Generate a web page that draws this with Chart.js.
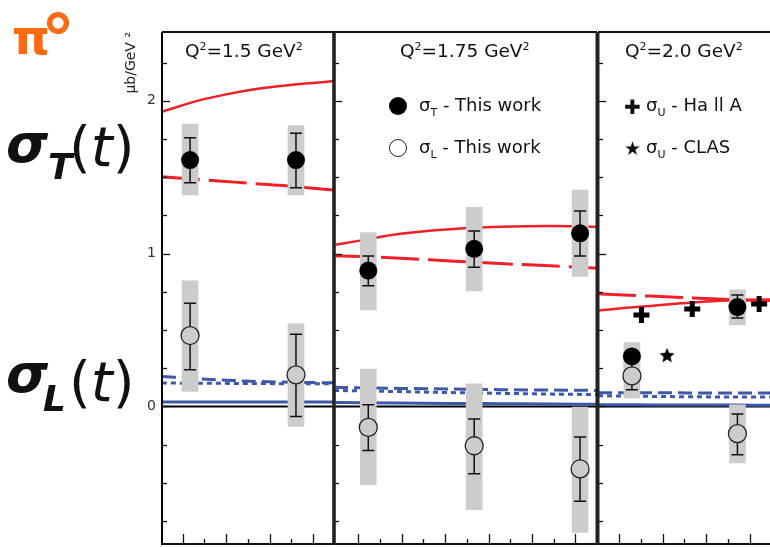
<!DOCTYPE html>
<html>
<head>
<meta charset="utf-8">
<script src="https://cdn.jsdelivr.net/npm/chart.js@4.4.1/dist/chart.umd.min.js"></script>
<style>
  body { margin: 0; background: #fff; width: 770px; height: 547px; overflow: hidden; position: relative; font-family: "DejaVu Sans", sans-serif; }
  canvas { position: absolute; top: 0; }
  .txt { position: absolute; white-space: nowrap; color: #111; line-height: 1; }
  .dot { position: absolute; width: 18px; height: 18px; border-radius: 50%; box-sizing: border-box; }
  sup, sub { font-size: 11px; }
</style>
</head>
<body>
<canvas id="p1" width="336" height="547" style="left:0"></canvas>
<canvas id="p2" width="270" height="547" style="left:330px"></canvas>
<canvas id="p3" width="176" height="547" style="left:594px"></canvas>

<!-- side labels -->
<div class="txt" style="left:12px;top:9px;color:#ff6a10;font:bold 48px 'DejaVu Sans'">π</div>
<div class="txt" style="left:41px;top:0px;color:#ff6a10;font:bold 68px 'DejaVu Sans'">°</div>

<div class="txt" style="left:6px;top:112px;font:bold italic 54px 'DejaVu Sans'">σ</div>
<div class="txt" style="left:48px;top:146px;font:bold italic 36px 'DejaVu Sans'">T</div>
<div class="txt" style="left:69px;top:114px;font:56px 'DejaVu Sans'">(<i>t</i>)</div>

<div class="txt" style="left:6px;top:342px;font:bold italic 54px 'DejaVu Sans'">σ</div>
<div class="txt" style="left:43px;top:378px;font:bold italic 36px 'DejaVu Sans'">L</div>
<div class="txt" style="left:69px;top:349px;font:56px 'DejaVu Sans'">(<i>t</i>)</div>

<!-- panel titles -->
<div class="txt" style="left:185px;top:40px;font:18.5px 'DejaVu Sans'">Q<sup>2</sup>=1.5 GeV<sup>2</sup></div>
<div class="txt" style="left:400px;top:40px;font:18.5px 'DejaVu Sans'">Q<sup>2</sup>=1.75 GeV<sup>2</sup></div>
<div class="txt" style="left:625px;top:40px;font:18.5px 'DejaVu Sans'">Q<sup>2</sup>=2.0 GeV<sup>2</sup></div>

<!-- legends -->
<div class="dot" style="left:389px;top:97px;background:#000"></div>
<div class="txt" style="left:419px;top:94px;font:18px 'DejaVu Sans'">σ<sub>T</sub> - This work</div>
<div class="dot" style="left:389px;top:139px;background:#fff;border:1.3px solid #222"></div>
<div class="txt" style="left:419px;top:136px;font:18px 'DejaVu Sans'">σ<sub>L</sub> - This work</div>
<div class="txt" style="left:624px;top:95px;font:bold 20px 'DejaVu Sans'">✚</div>
<div class="txt" style="left:646px;top:94px;font:18px 'DejaVu Sans'">σ<sub>U</sub> - Ha ll A</div>
<div class="txt" style="left:624px;top:137px;font:19px 'DejaVu Sans'">★</div>
<div class="txt" style="left:646px;top:136px;font:18px 'DejaVu Sans'">σ<sub>U</sub> - CLAS</div>

<script>
// shared axis ticks
const yTicks = [-0.75, -0.5, -0.25, 0, 0.25, 0.5, 0.75, 1, 1.25, 1.5, 1.75, 2, 2.25];
const yLabels = [0, 1, 2];

// ---- Q2 = 1.5 ----
const q1Ticks = [0.1, 0.15, 0.2, 0.25, 0.3, 0.35, 0.4];
const q1T = [0.117, 0.361];
const q1SigT = [1.612, 1.612];
const q1SigTErrLo = [1.464, 1.431];
const q1SigTErrHi = [1.758, 1.787];
const q1SigTSysLo = [1.384, 1.384];
const q1SigTSysHi = [1.848, 1.837];
const q1SigL = [0.464, 0.207];
const q1SigLErrLo = [0.24, -0.065];
const q1SigLErrHi = [0.676, 0.473];
const q1SigLSysLo = [0.098, -0.13];
const q1SigLSysHi = [0.822, 0.54];
const q1CurveT = [0.052, 0.14, 0.2, 0.255, 0.325, 0.4, 0.449];
const q1RedSolid = [1.928, 2.004, 2.042, 2.07, 2.096, 2.117, 2.129];
const q1RedDash = [1.503, 1.485, 1.472, 1.46, 1.447, 1.428, 1.416];
const q1BlueDash = [0.196, 0.18, 0.172, 0.165, 0.16, 0.156, 0.155];
const q1BlueDot = [0.153, 0.152, 0.151, 0.15, 0.149, 0.148, 0.148];
const q1BlueSolid = [0.029, 0.029, 0.029, 0.029, 0.029, 0.029, 0.029];

// ---- Q2 = 1.75 ----
const q2Ticks = [0.1, 0.15, 0.2, 0.25, 0.3, 0.35, 0.4, 0.45, 0.5, 0.55, 0.6];
const q2T = [0.123, 0.367, 0.611];
const q2SigT = [0.889, 1.031, 1.133];
const q2SigTErrLo = [0.789, 0.911, 0.985];
const q2SigTErrHi = [0.985, 1.148, 1.279];
const q2SigTSysLo = [0.632, 0.756, 0.85];
const q2SigTSysHi = [1.137, 1.303, 1.416];
const q2SigL = [-0.137, -0.257, -0.409];
const q2SigLErrLo = [-0.288, -0.44, -0.621];
const q2SigLErrHi = [0.011, -0.082, -0.2];
const q2SigLSysLo = [-0.512, -0.675, -0.824];
const q2SigLSysHi = [0.244, 0.148, -0.004];
const q2CurveT = [0.044, 0.104, 0.196, 0.311, 0.427, 0.542, 0.65];
const q2RedSolid = [1.057, 1.085, 1.13, 1.16, 1.175, 1.18, 1.175];
const q2RedDash = [0.985, 0.981, 0.97, 0.952, 0.935, 0.92, 0.905];
const q2BlueDash = [0.125, 0.122, 0.118, 0.114, 0.11, 0.107, 0.105];
const q2BlueDot = [0.105, 0.102, 0.097, 0.091, 0.086, 0.081, 0.078];
const q2BlueSolid = [0.026, 0.025, 0.023, 0.02, 0.018, 0.016, 0.014];

// ---- Q2 = 2.0 ----
const q3Ticks = [0.1, 0.15, 0.2, 0.25, 0.3, 0.35, 0.4];
const q3T = [0.129, 0.372];
const q3SigT = [0.327, 0.65];
const q3SigTErrLo = [0.29, 0.578];
const q3SigTErrHi = [0.36, 0.73];
const q3SigTSysLo = [0.22, 0.534];
const q3SigTSysHi = [0.418, 0.763];
const q3SigL = [0.2, -0.178];
const q3SigLErrLo = [0.11, -0.316];
const q3SigLErrHi = [0.29, -0.05];
const q3SigLSysLo = [0.055, -0.37];
const q3SigLSysHi = [0.3, 0.011];
const hallAT = [0.151, 0.268, 0.422];
const hallASigU = [0.599, 0.637, 0.671];
const clasT = [0.21];
const clasSigU = [0.331];
const q3CurveT = [0.051, 0.11, 0.171, 0.23, 0.286, 0.36, 0.447];
const q3RedSolid = [0.628, 0.644, 0.658, 0.672, 0.684, 0.693, 0.70];
const q3RedDash = [0.737, 0.729, 0.722, 0.715, 0.708, 0.70, 0.693];
const q3BlueDash = [0.09, 0.09, 0.089, 0.089, 0.088, 0.088, 0.088];
const q3BlueDot = [0.07, 0.068, 0.066, 0.064, 0.063, 0.062, 0.061];
const q3BlueSolid = [0.011, 0.011, 0.01, 0.01, 0.009, 0.009, 0.008];

const RED = "#ee2028";
const BLUE = "#3d58a8";
const GREY = "#cccccc";

function starImage(r) {
    const c = document.createElement("canvas");
    const s = Math.ceil(r * 2 + 2);
    c.width = c.height = s;
    const g = c.getContext("2d");
    g.fillStyle = "#000";
    g.beginPath();
    for (let i = 0; i < 10; i++) {
        const a = -Math.PI / 2 + i * Math.PI / 5;
        const rr = i % 2 ? r * 0.45 : r;
        g.lineTo(s / 2 + rr * Math.cos(a), s / 2 + rr * Math.sin(a));
    }
    g.closePath();
    g.fill();
    return c;
}

function xy(xs, ys) {
    return xs.map((x, i) => ({ x: x, y: ys[i] }));
}

function curve(xs, ys, color, dash, width) {
    return {
        type: "line", data: xy(xs, ys), borderColor: color, borderWidth: width,
        borderDash: dash, pointRadius: 0, cubicInterpolationMode: "monotone", fill: false, order: 6,
    };
}

function boxes(xs, lo, hi) {
    return {
        type: "bar", data: xs.map((x, i) => ({ x: x, y: [lo[i], hi[i]] })),
        backgroundColor: GREY, barThickness: 16, grouped: false, order: 5,
    };
}

function makePanel(id, p) {
    const errSets = p.errors;
    const panelPlugin = {
        id: "panel" + id,
        beforeDatasetsDraw(chart) {
            const { ctx, chartArea: a, scales: { y } } = chart;
            const y0 = y.getPixelForValue(0);
            ctx.save();
            ctx.strokeStyle = "#000";
            ctx.lineWidth = 2;
            ctx.beginPath();
            ctx.moveTo(a.left, y0);
            ctx.lineTo(a.right, y0);
            ctx.stroke();
            ctx.restore();
        },
        beforeDatasetDraw(chart, args) {
            if (chart.data.datasets[args.index].label !== "sigL") return;
            const { ctx, scales: { x, y } } = chart;
            ctx.save();
            ctx.strokeStyle = "#111";
            ctx.lineWidth = 1.5;
            errSets.forEach((s) => {
                s.x.forEach((xv, i) => {
                    const px = x.getPixelForValue(xv);
                    const lo = y.getPixelForValue(s.lo[i]);
                    const hi = y.getPixelForValue(s.hi[i]);
                    ctx.beginPath();
                    ctx.moveTo(px, lo); ctx.lineTo(px, hi);
                    ctx.moveTo(px - 6, lo); ctx.lineTo(px + 6, lo);
                    ctx.moveTo(px - 6, hi); ctx.lineTo(px + 6, hi);
                    ctx.stroke();
                });
            });
            ctx.restore();
        },
        afterDatasetsDraw(chart) {
            const { ctx, chartArea: a, scales: { x, y } } = chart;
            ctx.save();
            ctx.strokeStyle = "#111";
            // inward ticks on the left side
            ctx.lineWidth = 1.3;
            yTicks.forEach((v) => {
                const py = Math.round(y.getPixelForValue(v)) + 0.5;
                const len = Number.isInteger(v) ? 8 : 5;
                ctx.beginPath();
                ctx.moveTo(a.left, py);
                ctx.lineTo(a.left + len, py);
                ctx.stroke();
            });
            p.xTicks.forEach((v) => {
                const px = Math.round(x.getPixelForValue(v)) + 0.5;
                const major = Math.abs(v * 10 - Math.round(v * 10)) < 1e-6;
                ctx.beginPath();
                ctx.moveTo(px, a.bottom);
                ctx.lineTo(px, a.bottom - (major ? 10 : 5));
                ctx.stroke();
            });
            // frame
            ctx.lineWidth = 2;
            ctx.beginPath();
            ctx.moveTo(a.left, a.top); ctx.lineTo(a.right, a.top);
            ctx.moveTo(a.left, a.bottom); ctx.lineTo(a.right, a.bottom);
            ctx.stroke();
            ctx.lineWidth = p.leftWidth;
            ctx.strokeStyle = p.leftColor;
            ctx.beginPath();
            ctx.moveTo(a.left, a.top); ctx.lineTo(a.left, a.bottom + 1);
            ctx.stroke();
            if (p.rightWidth) {
                ctx.lineWidth = p.rightWidth;
                ctx.beginPath();
                ctx.moveTo(a.right, a.top); ctx.lineTo(a.right, a.bottom + 1);
                ctx.stroke();
            }
            ctx.restore();
        },
    };

    return new Chart(document.getElementById(id), {
        type: "scatter",
        data: { datasets: p.datasets },
        options: {
            responsive: false,
            animation: false,
            events: [],
            layout: { padding: p.padding, autoPadding: false },
            plugins: { legend: { display: false }, tooltip: { enabled: false } },
            scales: {
                x: { type: "linear", min: p.xMin, max: p.xMax, offset: false, display: false },
                y: {
                    type: "linear", min: -0.9, max: 2.45, display: p.showY,
                    grid: { display: false, drawTicks: false },
                    border: { display: false },
                    afterBuildTicks: (s) => { s.ticks = yLabels.map((v) => ({ value: v })); },
                    afterFit: (s) => {
                        if (!p.showY) return;
                        s.width = 42;
                        s.paddingTop = 0;
                        s.paddingBottom = 0;
                    },
                    ticks: { padding: 6, color: "#333", font: { family: "DejaVu Sans", size: 14 } },
                    title: {
                        display: true, text: "μb/GeV ²", align: "end", color: "#222",
                        font: { family: "DejaVu Sans", size: 14 }, padding: 3,
                    },
                },
            },
        },
        plugins: [panelPlugin],
    });
}

function pointSets(xs, sigT, sigL) {
    return [
        { label: "sigT", data: xy(xs, sigT), pointRadius: 9, pointStyle: "circle", backgroundColor: "#000", borderColor: "#000", borderWidth: 0, order: 1 },
        { label: "sigL", data: xy(xs, sigL), pointRadius: 9, pointStyle: "circle", backgroundColor: GREY, borderColor: "#222", borderWidth: 1.3, order: 2 },
    ];
}

makePanel("p1", {
    padding: { left: 120, right: 2, top: 32, bottom: 3 },
    xMin: 0.0523, xMax: 0.4486, xTicks: q1Ticks, showY: true, leftWidth: 2, leftColor: "#000", rightWidth: 3,
    errors: [
        { x: q1T, lo: q1SigTErrLo, hi: q1SigTErrHi },
        { x: q1T, lo: q1SigLErrLo, hi: q1SigLErrHi },
    ],
    datasets: [
        curve(q1CurveT, q1RedSolid, RED, [], 2.5),
        curve(q1CurveT, q1RedDash, RED, [38, 9], 3),
        curve(q1CurveT, q1BlueSolid, BLUE, [], 3),
        curve(q1CurveT, q1BlueDash, BLUE, [14, 6], 3),
        curve(q1CurveT, q1BlueDot, BLUE, [5, 4], 3),
        boxes(q1T, q1SigTSysLo, q1SigTSysHi),
        boxes(q1T, q1SigLSysLo, q1SigLSysHi),
    ].concat(pointSets(q1T, q1SigT, q1SigL)),
});

makePanel("p2", {
    padding: { left: 4, right: 3, top: 32, bottom: 3 },
    xMin: 0.044, xMax: 0.65, xTicks: q2Ticks, showY: false, leftWidth: 3, leftColor: "#222", rightWidth: 3,
    errors: [
        { x: q2T, lo: q2SigTErrLo, hi: q2SigTErrHi },
        { x: q2T, lo: q2SigLErrLo, hi: q2SigLErrHi },
    ],
    datasets: [
        curve(q2CurveT, q2RedSolid, RED, [], 2.5),
        curve(q2CurveT, q2RedDash, RED, [38, 9], 3),
        curve(q2CurveT, q2BlueSolid, BLUE, [], 3),
        curve(q2CurveT, q2BlueDash, BLUE, [14, 6], 3),
        curve(q2CurveT, q2BlueDot, BLUE, [5, 4], 3),
        boxes(q2T, q2SigTSysLo, q2SigTSysHi),
        boxes(q2T, q2SigLSysLo, q2SigLSysHi),
    ].concat(pointSets(q2T, q2SigT, q2SigL)),
});

makePanel("p3", {
    padding: { left: 4, right: 0, top: 32, bottom: 3 },
    xMin: 0.0509, xMax: 0.447, xTicks: q3Ticks, showY: false, leftWidth: 3, leftColor: "#222", rightWidth: 0,
    errors: [
        { x: q3T, lo: q3SigTErrLo, hi: q3SigTErrHi },
        { x: q3T, lo: q3SigLErrLo, hi: q3SigLErrHi },
    ],
    datasets: [
        curve(q3CurveT, q3RedSolid, RED, [], 2.5),
        curve(q3CurveT, q3RedDash, RED, [38, 9], 3),
        curve(q3CurveT, q3BlueSolid, BLUE, [], 3),
        curve(q3CurveT, q3BlueDash, BLUE, [14, 6], 3),
        curve(q3CurveT, q3BlueDot, BLUE, [5, 4], 3),
        boxes(q3T, q3SigTSysLo, q3SigTSysHi),
        boxes(q3T, q3SigLSysLo, q3SigLSysHi),
        { label: "hallA", data: xy(hallAT, hallASigU), pointStyle: "cross", pointRadius: 8, borderColor: "#000", borderWidth: 5, order: 0 },
        { label: "clas", data: xy(clasT, clasSigU), pointStyle: starImage(8), order: 0 },
    ].concat(pointSets(q3T, q3SigT, q3SigL)),
});
</script>
</body>
</html>
